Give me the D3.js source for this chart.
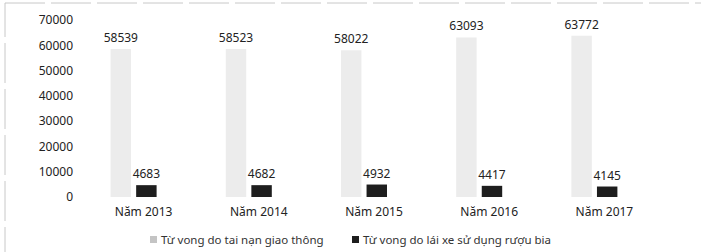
<!DOCTYPE html>
<html>
<head>
<meta charset="utf-8">
<script src="https://cdn.jsdelivr.net/npm/d3@7"></script>
<style>
  body { margin: 0; background: #fff; }
  text { font-family: "Noto Sans", "Open Sans", sans-serif; }
</style>
</head>
<body>
<div id="chart"></div>
<script>
var years = ["Năm 2013", "Năm 2014", "Năm 2015", "Năm 2016", "Năm 2017"];
var traffic = [58539, 58523, 58022, 63093, 63772];
var alcohol = [4683, 4682, 4932, 4417, 4145];
var seriesNames = ["Từ vong do tai nạn giao thông", "Từ vong do lái xe sử dụng rượu bia"];
var yTicks = [0, 10000, 20000, 30000, 40000, 50000, 60000, 70000];

var width = 701, height = 252;
var colors = ["#ececec", "#1e1e1e"];

var svg = d3.select("#chart").append("svg")
  .attr("width", width).attr("height", height);

// faint frame like the scanned border
svg.append("rect")
  .attr("x", 5).attr("y", 3)
  .attr("width", 700).attr("height", 260)
  .attr("fill", "none")
  .attr("stroke", "#c8c8c8")
  .attr("stroke-dasharray", "40,6");

var y = d3.scaleLinear().domain([0, 70000]).range([197, 20]);
var x0 = d3.scaleBand().domain(years).range([86, 662]);
var x1 = d3.scaleBand().domain([0, 1]).range([0, 46]).paddingInner(0.2);

// y axis, labels only
svg.append("g")
  .attr("transform", "translate(76,0)")
  .call(d3.axisLeft(y).tickValues(yTicks).tickFormat(d3.format("d")).tickSize(0).tickPadding(3))
  .call(function(g){ g.select(".domain").remove(); })
  .selectAll("text")
    .attr("font-size", 12)
    .attr("fill", "#222");

// x axis, labels only
svg.append("g")
  .attr("transform", "translate(0,197)")
  .call(d3.axisBottom(x0).tickSize(0).tickPadding(10))
  .call(function(g){ g.select(".domain").remove(); })
  .selectAll("text")
    .attr("font-size", 12)
    .attr("fill", "#222");

var rows = years.map(function(yr, i){ return { year: yr, values: [traffic[i], alcohol[i]] }; });

var groups = svg.selectAll("g.grp")
  .data(rows)
  .enter().append("g")
    .attr("class", "grp")
    .attr("transform", function(d){
      return "translate(" + (x0(d.year) + x0.bandwidth() / 2 - 33) + ",0)";
    });

groups.selectAll("rect")
  .data(function(d){ return d.values.map(function(v, k){ return { k: k, v: v }; }); })
  .enter().append("rect")
    .attr("x", function(d){ return x1(d.k); })
    .attr("y", function(d){ return y(d.v); })
    .attr("width", x1.bandwidth())
    .attr("height", function(d){ return y(0) - y(d.v); })
    .attr("fill", function(d){ return colors[d.k]; });

groups.selectAll("text.val")
  .data(function(d){ return d.values.map(function(v, k){ return { k: k, v: v }; }); })
  .enter().append("text")
    .attr("class", "val")
    .attr("x", function(d){ return x1(d.k) + x1.bandwidth() / 2; })
    .attr("y", function(d){ return y(d.v) - 7; })
    .attr("text-anchor", "middle")
    .attr("font-size", 12)
    .attr("fill", "#222")
    .text(function(d){ return d.v; });

// legend
var legendX = [150, 352];
var legend = svg.selectAll("g.leg")
  .data(seriesNames)
  .enter().append("g")
    .attr("class", "leg")
    .attr("transform", function(d, i){ return "translate(" + legendX[i] + ",240)"; });

legend.append("rect")
  .attr("x", 0).attr("y", -4)
  .attr("width", 7).attr("height", 7)
  .attr("fill", function(d, i){ return i == 0 ? "#c4c4c4" : colors[1]; });

legend.append("text")
  .attr("x", 11).attr("y", 0)
  .attr("dy", "0.35em")
  .attr("font-size", 11.5)
  .attr("fill", "#333")
  .text(function(d){ return d; });
</script>
</body>
</html>
